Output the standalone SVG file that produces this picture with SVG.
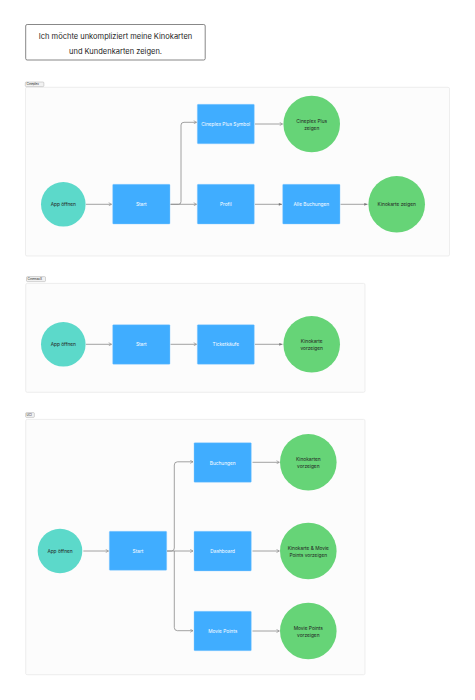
<svg xmlns="http://www.w3.org/2000/svg" width="475" height="700" viewBox="0 0 475 700">
<defs>
<style>
.frame{fill:#fcfcfc;stroke:#e6e6e6;stroke-width:0.7}
.tag{fill:#f2f2f2;stroke:#9a9a9a;stroke-width:0.4}
.tagt{font-family:Inter,"Liberation Sans",sans-serif;font-size:3px;fill:#222}
.teal{fill:#5cd9ca}
.green{fill:#66d477}
.blue{fill:#40adff;stroke:#8ccaff;stroke-width:0.4}
.tw{font-family:Inter,"Liberation Sans",sans-serif;font-size:4.8px;fill:#fff;text-anchor:middle;dominant-baseline:central}
.td{font-family:Inter,"Liberation Sans",sans-serif;font-size:4.8px;fill:#222;text-anchor:middle;dominant-baseline:central}
.c{fill:none;stroke:#8a8a8a;stroke-width:0.8}
.co{marker-end:url(#open)}
.cf{marker-end:url(#fill)}
</style>
<marker id="open" viewBox="0 0 10 10" refX="9" refY="5" markerWidth="4" markerHeight="4" orient="auto" markerUnits="userSpaceOnUse">
<path d="M2,1 L9,5 L2,9" fill="none" stroke="#8a8a8a" stroke-width="1.6"/>
</marker>
<marker id="fill" viewBox="0 0 10 10" refX="9" refY="5" markerWidth="4" markerHeight="4" orient="auto" markerUnits="userSpaceOnUse">
<path d="M1,1.5 L9,5 L1,8.5 Z" fill="#777"/>
</marker>
</defs>
<rect width="475" height="700" fill="#ffffff"/>

<g id="title">
<rect x="25.7" y="24.5" width="179.5" height="35.5" rx="1.5" fill="#fff" stroke="#555" stroke-width="0.7"/>
<text x="115.5" y="36.8" font-family="Inter,'Liberation Sans',sans-serif" font-size="7.5" fill="#222" text-anchor="middle" dominant-baseline="central">Ich möchte unkompliziert meine Kinokarten</text>
<text x="115.5" y="51" font-family="Inter,'Liberation Sans',sans-serif" font-size="7.5" fill="#222" text-anchor="middle" dominant-baseline="central">und Kundenkarten zeigen.</text>
</g>

<!-- Cineplex -->
<g id="frame-cineplex">
<rect class="frame" x="25.5" y="87.3" width="424" height="168.7" rx="1.5"/>
<rect class="tag" x="25.3" y="82" width="18.6" height="4.6" rx="1"/>
<text class="tagt" x="26.6" y="85.4">Cineplex</text>
</g>

<!-- Cinemaxx -->
<g id="frame-cinemaxx">
<rect class="frame" x="25.7" y="283.4" width="339.3" height="108.9" rx="1.5"/>
<rect class="tag" x="26.5" y="276.6" width="19" height="5" rx="1"/>
<text class="tagt" x="27.6" y="280.2">CinemaxX</text>
</g>

<!-- UCI -->
<g id="frame-uci">
<rect class="frame" x="25.7" y="419.4" width="339.3" height="255.3" rx="1.5"/>
<rect class="tag" x="25.6" y="412.6" width="8.8" height="4.8" rx="1"/>
<text class="tagt" x="26.6" y="416.2">UCI</text>
</g>

<g id="connectors">
<!-- Cineplex -->
<path class="c co" d="M86,204.3 L111.5,204.3"/>
<path class="c co" d="M170.5,204.3 L196.5,204.3"/>
<path class="c co" d="M170.5,204.3 L178.5,204.3 Q181,204.3 181,201.5 L181,125 Q181,122.3 184,122.3 L196.5,122.3"/>
<path class="c co" d="M255,124 L282.5,124"/>
<path class="c cf" d="M255,204.3 L282,204.3"/>
<path class="c cf" d="M340.5,204.3 L367.5,204.3"/>
<!-- Cinemaxx -->
<path class="c co" d="M86,344.3 L111.5,344.3"/>
<path class="c co" d="M170.5,344.3 L196.5,344.3"/>
<path class="c cf" d="M255,344.3 L282.5,344.3"/>
<!-- UCI -->
<path class="c co" d="M83.3,551 L108.5,551"/>
<path class="c co" d="M167,551 L193,551"/>
<path class="c co" d="M167,551 L171.5,551 Q174.3,551 174.3,548 L174.3,465 Q174.3,461.8 177.5,461.8 L193,461.8"/>
<path class="c co" d="M174.3,551 L174.3,627.5 Q174.3,630.7 177.5,630.7 L193,630.7"/>
<path class="c co" d="M252.5,462.3 L279.3,462.3"/>
<path class="c co" d="M252.5,551 L279.3,551"/>
<path class="c co" d="M252.5,631 L279.3,631"/>
</g>

<!-- Cineplex nodes -->
<g id="cp-app"><circle class="teal" cx="63.3" cy="204.3" r="22.3"/><text class="td" x="63.3" y="204.3">App öffnen</text></g>
<g id="cp-start"><rect class="blue" x="112.7" y="184.3" width="57.3" height="39.7" rx="0.8"/><text class="tw" x="141.3" y="204.3">Start</text></g>
<g id="cp-plus"><rect class="blue" x="197.3" y="104.3" width="57" height="39.5" rx="0.8"/><text class="tw" x="225.8" y="124">Cineplex Plus Symbol</text></g>
<g id="cp-profil"><rect class="blue" x="197.3" y="184.3" width="57" height="39.7" rx="0.8"/><text class="tw" x="225.8" y="204.3">Profil</text></g>
<g id="cp-plus-zeigen"><circle class="green" cx="311.7" cy="124" r="28.3"/><text class="td" x="311.7" y="120.5">Cineplex Plus</text><text class="td" x="311.7" y="127.8">zeigen</text></g>
<g id="cp-buchungen"><rect class="blue" x="282.7" y="184.3" width="57.3" height="39.7" rx="0.8"/><text class="tw" x="311.3" y="204.3">Alle Buchungen</text></g>
<g id="cp-kinokarte"><circle class="green" cx="396.7" cy="204.3" r="28.3"/><text class="td" x="396.7" y="204.3">Kinokarte zeigen</text></g>

<!-- Cinemaxx nodes -->
<g id="cx-app"><circle class="teal" cx="63.3" cy="344.3" r="22.3"/><text class="td" x="63.3" y="344.3">App öffnen</text></g>
<g id="cx-start"><rect class="blue" x="112.7" y="324.7" width="57.3" height="39.6" rx="0.8"/><text class="tw" x="141.3" y="344.3">Start</text></g>
<g id="cx-tickets"><rect class="blue" x="197.3" y="324.7" width="57" height="39.6" rx="0.8"/><text class="tw" x="225.8" y="344.3">Ticketkäufe</text></g>
<g id="cx-kinokarte"><circle class="green" cx="311.7" cy="344.3" r="28.3"/><text class="td" x="311.7" y="340.8">Kinokarte</text><text class="td" x="311.7" y="348.1">vorzeigen</text></g>

<!-- UCI nodes -->
<g id="uci-app"><circle class="teal" cx="60" cy="551" r="22.3"/><text class="td" x="60" y="551">App öffnen</text></g>
<g id="uci-start"><rect class="blue" x="109.3" y="531.3" width="57.4" height="39" rx="0.8"/><text class="tw" x="138" y="551">Start</text></g>
<g id="uci-buchungen"><rect class="blue" x="194" y="442.7" width="57.3" height="39.6" rx="0.8"/><text class="tw" x="222.7" y="462.5">Buchungen</text></g>
<g id="uci-dashboard"><rect class="blue" x="194" y="531.3" width="57.3" height="39.6" rx="0.8"/><text class="tw" x="222.7" y="551">Dashboard</text></g>
<g id="uci-moviepoints"><rect class="blue" x="194" y="611.3" width="57.3" height="39.4" rx="0.8"/><text class="tw" x="222.7" y="631">Movie Points</text></g>
<g id="uci-kinokarten"><circle class="green" cx="308.3" cy="462.3" r="28.3"/><text class="td" x="308.3" y="458.8">Kinokarten</text><text class="td" x="308.3" y="466.1">vorzeigen</text></g>
<g id="uci-kinokarte-mp"><circle class="green" cx="308.3" cy="551" r="28.3"/><text class="td" x="308.3" y="547.5">Kinokarte &amp; Movie</text><text class="td" x="308.3" y="554.8">Points vorzeigen</text></g>
<g id="uci-mp-vorzeigen"><circle class="green" cx="308.3" cy="631" r="28.3"/><text class="td" x="308.3" y="627.5">Movie Points</text><text class="td" x="308.3" y="634.8">vorzeigen</text></g>
</svg>
